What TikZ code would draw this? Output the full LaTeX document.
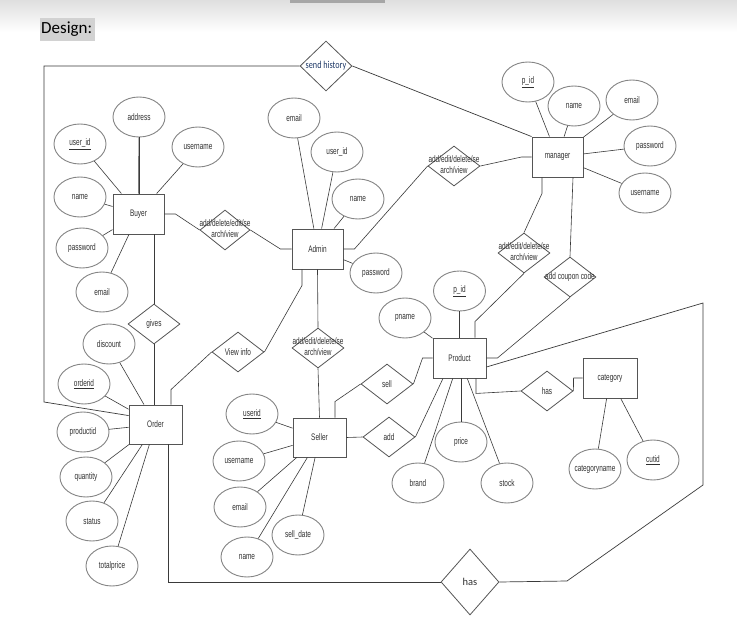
\documentclass[tikz,border=0pt]{standalone}
\usepackage{fontspec}
\setmainfont{Carlito}
\newfontfamily\erfont[FakeStretch=0.68]{Liberation Sans}
\newfontfamily\condfont[FakeStretch=0.78]{Carlito}
\usetikzlibrary{shapes.geometric}

\definecolor{boxgray}{HTML}{555555}
\definecolor{ovalgray}{HTML}{858585}
\definecolor{linkgray}{HTML}{3A3A3A}
\definecolor{labelgray}{HTML}{303030}
\definecolor{histblue}{HTML}{1F3A68}
\definecolor{marker}{HTML}{D2D2D2}

% zero-width text so long labels never enlarge their shapes
\newcommand\zw[1]{\makebox[0pt]{#1}}
\newcommand\twol[2]{\makebox[0pt]{\begin{tabular}{@{}c@{}}#1\\[0.5pt]#2\end{tabular}}}

\tikzset{
  erlabel/.style={font=\erfont\fontsize{9.5}{10}\selectfont, text=labelgray},
  entity/.style={rectangle, draw=boxgray, line width=0.9pt, minimum width=51,
    minimum height=40, inner sep=0pt, erlabel},
  attr/.style={ellipse, draw=ovalgray, line width=0.9pt, minimum width=52,
    minimum height=40, inner sep=0pt, erlabel},
  rel/.style={diamond, draw=boxgray, line width=0.8pt, minimum width=52,
    minimum height=40, inner sep=0pt, erlabel},
  link/.style={draw=linkgray, line width=0.6pt},
  bigloop/.style={draw=linkgray, line width=0.7pt},
}

\begin{document}
\begin{tikzpicture}[x=1pt,y=-1pt]
\useasboundingbox (0,0) rectangle (737,629);
\fill[white] (0,0) rectangle (737,629);
\shade[top color=gray!25, bottom color=white] (0,0) rectangle (737,32);
\fill[gray!70] (290,0) rectangle (385,2.5);

% heading
\fill[marker] (40,18) rectangle (95,41);
\node[anchor=west, inner sep=0pt, font=\fontsize{17}{20}\selectfont] (title) at (41,29.5) {Design:};

% ---------- entities ----------
\node[entity] (manager) at (557.5,157) {manager};
\node[entity] (Admin) at (317.5,249) {Admin};
\node[entity] (Buyer) at (138.5,214) {Buyer};
\node[entity, minimum width=53, minimum height=39] (Order) at (155.5,424.5) {Order};
\node[entity, minimum width=53, minimum height=39] (Seller) at (319.5,437.5) {Seller};
\node[entity, minimum width=53] (Product) at (459.5,358) {Product};
\node[entity, minimum width=54] (category) at (610,378) {category};

% ---------- attributes ----------
% manager
\node[attr] (m_pid) at (528,82) {\zw{\underline{p\_id}}};
\node[attr] (m_name) at (574,106) {\zw{name}};
\node[attr] (m_email) at (632,100) {\zw{email}};
\node[attr] (m_pass) at (650,146) {\zw{password}};
\node[attr] (m_user) at (645,193) {\zw{username}};
% Admin
\node[attr] (a_email) at (294,118) {\zw{email}};
\node[attr] (a_uid) at (337,152) {\zw{user\_id}};
\node[attr] (a_name) at (358,199) {\zw{name}};
\node[attr] (a_pass) at (376,273) {\zw{password}};
% Buyer
\node[attr] (b_addr) at (139,117) {\zw{address}};
\node[attr] (b_uid) at (80,144) {\zw{\underline{user\_id}}};
\node[attr] (b_user) at (198,147) {\zw{username}};
\node[attr] (b_name) at (80,197) {\zw{name}};
\node[attr] (b_pass) at (82,248) {\zw{password}};
\node[attr] (b_email) at (102,292) {\zw{email}};
% Order
\node[attr] (o_disc) at (109,344) {\zw{discount}};
\node[attr] (o_oid) at (84,384) {\zw{\underline{orderid}}};
\node[attr] (o_pid) at (83,432) {\zw{productid}};
\node[attr] (o_qty) at (86,477) {\zw{quantity}};
\node[attr] (o_stat) at (92,521) {\zw{status}};
\node[attr] (o_total) at (112,566) {\zw{totalprice}};
% Seller
\node[attr] (s_uid) at (252,414) {\zw{\underline{userid}}};
\node[attr] (s_user) at (239,461) {\zw{username}};
\node[attr] (s_email) at (240,507) {\zw{email}};
\node[attr] (s_name) at (247,557) {\zw{name}};
\node[attr] (s_date) at (298,535) {\zw{sell\_date}};
% Product
\node[attr] (p_pid) at (459.5,291) {\zw{\underline{p\_id}}};
\node[attr] (p_name) at (405,318) {\zw{pname}};
\node[attr] (p_price) at (461,442) {\zw{price}};
\node[attr] (p_brand) at (418,483) {\zw{brand}};
\node[attr] (p_stock) at (507,483) {\zw{stock}};
% category
\node[attr] (c_name) at (595,469) {\zw{categoryname}};
\node[attr] (c_id) at (653,460) {\zw{\underline{cutid}}};

% ---------- relationships ----------
\node[rel, minimum height=50, font=\condfont\fontsize{10.5}{12}\selectfont, text=histblue] (r_hist) at (326,66) {\zw{send history}};
\node[rel] (r_mgr) at (454,166) {\twol{add/edit/delete/se}{arch/view}};
\node[rel, minimum width=50] (r_buy) at (225,230) {\twol{add/delete/edit/se}{arch/view}};
\node[rel] (r_gives) at (154,324) {\zw{gives}};
\node[rel] (r_view) at (238,352) {\zw{View info}};
\node[rel] (r_sel) at (318,348) {\twol{add/edit/delete/se}{arch/view}};
\node[rel] (r_sell) at (387,384) {\zw{sell}};
\node[rel] (r_add) at (389,437) {\zw{add}};
\node[rel] (r_prod) at (524,253) {\twol{add/edit/delete/se}{arch/view}};
\node[rel] (r_coup) at (570,277) {\zw{add coupon code}};
\node[rel] (r_has) at (547,391) {\zw{has}};
\node[rel, minimum width=58, minimum height=66, font=\fontsize{10.5}{12}\selectfont, text=labelgray] (r_has2) at (470,582) {\zw{has}};

% ---------- attribute links ----------
\foreach \a/\e in {m_pid/manager, m_name/manager, m_email/manager, m_pass/manager, m_user/manager,
                   a_email/Admin, a_uid/Admin, a_name/Admin, a_pass/Admin,
                   b_addr/Buyer, b_uid/Buyer, b_user/Buyer, b_name/Buyer, b_pass/Buyer, b_email/Buyer,
                   o_disc/Order, o_oid/Order, o_pid/Order, o_qty/Order, o_stat/Order, o_total/Order,
                   s_uid/Seller, s_user/Seller, s_email/Seller, s_name/Seller, s_date/Seller,
                   p_name/Product, p_brand/Product, p_stock/Product,
                   c_name/category, c_id/category}
  \draw[link] (\a) -- (\e);
\draw[link] (b_addr) -- (b_addr |- Buyer.north);
\draw[link] (p_pid) -- (p_pid |- Product.north);
\draw[link] (p_price) -- (p_price |- Product.south);

% ---------- relationship links ----------
\draw[link] (Buyer.east) -- ++(11,0) -- (r_buy.west);
\draw[link] (r_buy.east) -- ++(30,19) -- (Admin.west);
\draw[link] (Admin.east) -- ++(11,0) -- (r_mgr.west);
\draw[link] (r_mgr.east) -- ([xshift=-10pt]manager.west) -- (manager.west);
\draw[link] (r_gives.north |- Buyer.south) -- (r_gives.north);
\draw[link] (r_gives.south) -- (r_gives.south |- Order.north);
\draw[link] ([xshift=15.5pt]Order.north) -- ++(0,-15) -- (r_view.west);
\draw[link] (r_view.east) -- ([xshift=-15.5pt,yshift=-16pt]Admin.south) -- ([xshift=-15.5pt]Admin.south);
\draw[link] (Admin.south) -- (r_sel.north);
\draw[link] (r_sel.south) -- (Seller.north);
\draw[link] ([xshift=15.5pt]Seller.north) -- ++(0,-16) -- (r_sell.west);
\draw[link] (r_sell.east) -- ([xshift=-10pt]Product.west) -- (Product.west);
\draw[link] (Seller.east) -- (r_add.west);
\draw[link] (r_add.east) -- ([xshift=-16.5pt]Product.south);
\draw[link] ([xshift=15.5pt]Product.north) -- ++(0,-16) -- (r_prod.south);
\draw[link] (r_prod.north) -- ([xshift=-15.5pt,yshift=-16pt]manager.south) -- ([xshift=-15.5pt]manager.south);
\draw[link] (Product.east) -- ++(11,0) -- (r_coup.south);
\draw[link] (r_coup.north) -- ([xshift=15.5pt]manager.south);
\draw[link] ([xshift=16.5pt]Product.south) -- ++(0,15) -- (r_has.west);
\draw[link] (r_has.east) -- ([xshift=-9pt]category.west) -- (category.west);

% ---------- long loops ----------
\coordinate (hl1) at (44,66);
\coordinate (hl2) at (44,402);
\draw[bigloop] (r_hist.west) -- (hl1) -- (hl2) -- ([yshift=-11pt]Order.north west);
\draw[bigloop] (r_hist.east) -- (manager.north west);

\coordinate (pl1) at (703,303);
\coordinate (pl2) at (703,485);
\coordinate (pl3) at (567,581);
\coordinate (ob) at ([xshift=12.5pt]Order.south);
\draw[bigloop] ([yshift=-9pt]Product.east) -- (pl1) -- (pl2) -- (pl3) -- (r_has2.east);
\draw[bigloop] (r_has2.west) -- (ob |- r_has2.west) -- (ob);
\end{tikzpicture}
\end{document}
